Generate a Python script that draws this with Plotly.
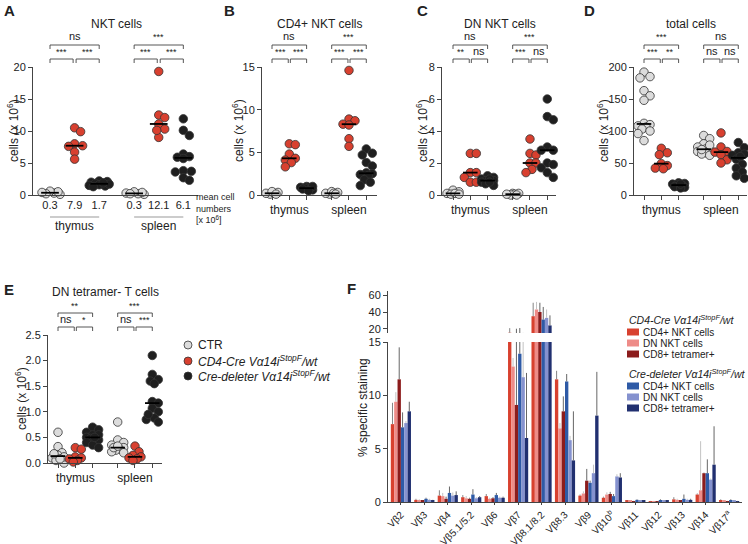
import numpy as np
import plotly.graph_objects as go

W, H = 748, 544
FONT = "Liberation Sans"

# ---------------- dot plot data, cells (x 10^6) ----------------
# A: NKT cells
a_thy_ctr = [0.1, 0.3, 0.5, 0.6, 0.2, 0.4]
a_thy_cd4 = [10.5, 9.9, 8.0, 7.6, 7.7, 6.7, 5.6]
a_thy_del = [2.1, 2.0, 2.2, 1.8, 1.6, 1.5, 1.4, 1.3, 1.7, 1.9]
a_spl_ctr = [0.1, 0.2, 0.4, 0.5, 0.3, 0.2]
a_spl_cd4 = [19.3, 12.5, 12.1, 11.1, 10.3, 9.0, 10.1]
a_spl_del = [11.9, 10.1, 9.3, 6.4, 6.0, 5.9, 5.7, 3.8, 3.6, 2.7, 2.3, 3.7]
a_means = ["0.3", "7.9", "1.7", "0.3", "12.1", "6.1"]

# B: CD4+ NKT cells
b_thy_ctr = [0.1, 0.2, 0.3, 0.2, 0.4, 0.1]
b_thy_cd4 = [6.0, 5.9, 4.8, 4.3, 4.1, 3.8, 3.3]
b_thy_del = [1.0, 0.9, 0.8, 0.7, 0.6, 0.9, 1.0, 0.8, 0.7, 0.5]
b_spl_ctr = [0.1, 0.2, 0.3, 0.4, 0.2, 0.1]
b_spl_cd4 = [14.6, 8.9, 8.7, 8.3, 8.2, 6.6, 5.7]
b_spl_del = [5.4, 4.9, 4.7, 3.8, 3.4, 2.6, 2.5, 2.4, 2.3, 1.8, 1.5, 1.1]

# C: DN NKT cells
c_thy_ctr = [0.3, 0.2, 0.1, 0.05, 0.1, 0.05]
c_thy_cd4 = [2.6, 2.6, 1.4, 1.4, 1.1, 0.8, 0.8]
c_thy_del = [1.2, 1.1, 1.0, 0.9, 0.9, 0.8, 0.7, 0.6, 1.0, 0.8]
c_spl_ctr = [0.1, 0.05, 0.0, 0.05, 0.1, 0.0]
c_spl_cd4 = [3.5, 2.6, 2.5, 2.0, 2.0, 1.6, 1.4]
c_spl_del = [6.0, 4.9, 4.7, 3.0, 2.8, 2.8, 2.0, 1.9, 1.7, 1.4, 1.1]

# D: total cells
d_thy_ctr = [192, 185, 183, 163, 155, 148, 112, 110, 108, 106, 103, 100, 96, 85]
d_thy_cd4 = [73, 66, 63, 49, 46, 42, 41]
d_thy_del = [19, 18, 17, 16, 15, 14, 13, 12, 11, 17]
d_spl_ctr = [93, 88, 80, 75, 72, 70, 68, 66, 64, 62, 78, 71]
d_spl_cd4 = [97, 75, 68, 67, 63, 55, 50]
d_spl_del = [82, 74, 66, 64, 62, 56, 48, 42, 36, 30, 26, 60]

# E: DN tetramer- T cells
e_thy_ctr = [0.6, 0.32, 0.2, 0.15, 0.1, 0.05, 0.0, 0.12, 0.08, 0.18]
e_thy_cd4 = [0.3, 0.27, 0.12, 0.1, 0.05, 0.08, 0.02]
e_thy_del = [0.7, 0.65, 0.6, 0.55, 0.5, 0.48, 0.45, 0.4, 0.35, 0.3, 0.55, 0.5]
e_spl_ctr = [0.8, 0.45, 0.4, 0.35, 0.3, 0.27, 0.25, 0.22, 0.2, 0.3, 0.33]
e_spl_cd4 = [0.33, 0.22, 0.15, 0.12, 0.1, 0.08, 0.05]
e_spl_del = [2.1, 1.73, 1.63, 1.6, 1.55, 1.2, 1.17, 1.07, 1.0, 0.88, 0.85, 0.8, 0.95]

# significance labels: [top, lower-left, lower-right] per organ
a_sig = [["ns", "***", "***"], ["***", "***", "***"]]
b_sig = [["ns", "***", "***"], ["***", "***", "***"]]
c_sig = [["ns", "**", "ns"], ["***", "***", "ns"]]
d_sig = [["***", "***", "**"], ["ns", "ns", "ns"]]
e_sig = [["**", "ns", "*"], ["***", "ns", "***"]]

organs = ["thymus", "spleen"]
genotypes = ["CTR", "<i>CD4-Cre Vα14i<sup>StopF</sup>/wt</i>",
             "<i>Cre-deleter Vα14i<sup>StopF</sup>/wt</i>"]

# ---------------- F: Vbeta usage, % specific staining ----------------
vb_labels = ["Vβ2", "Vβ3", "Vβ4", "Vβ5.1/5.2", "Vβ6", "Vβ7", "Vβ8.1/8.2", "Vβ8.3",
             "Vβ9", "Vβ10<sup>b</sup>", "Vβ11", "Vβ12", "Vβ13", "Vβ14", "Vβ17<sup>a</sup>"]
f_cd4cre_cd4 = [7.3, 0.2, 0.6, 0.45, 0.55, 15.3, 35, 11.5, 0.6, 0.4, 0.1, 0.05, 0.25, 0.7, 0.15]
f_cd4cre_dn = [9.4, 0.15, 0.55, 0.35, 0.3, 12.7, 43, 6.9, 0.8, 0.7, 0.1, 0.05, 0.2, 1.1, 0.1]
f_cd4cre_cd8 = [11.5, 0.1, 0.3, 0.3, 0.35, 9.1, 40, 8.5, 2.0, 0.75, 0.05, 0.02, 0.1, 2.7, 0.05]
f_del_cd4 = [7.0, 0.3, 0.85, 0.7, 0.65, 13.9, 31, 11.3, 1.8, 0.55, 0.2, 0.15, 0.3, 2.7, 0.15]
f_del_dn = [7.4, 0.2, 0.6, 0.35, 0.4, 11.7, 33, 5.8, 2.7, 2.4, 0.1, 0.1, 0.2, 2.1, 0.1]
f_del_cd8 = [8.5, 0.15, 0.65, 0.45, 0.4, 6.0, 24, 3.9, 8.1, 2.3, 0.1, 0.1, 0.2, 3.5, 0.05]
f_cd4cre_cd4_err = [2.0, 0.1, 0.5, 0.2, 0.2, 5.5, 16, 0.8, 0.1, 0.1, 0.05, 0.05, 0.2, 0.1, 0.1]
f_cd4cre_dn_err = [0.9, 0.1, 0.3, 0.2, 0.1, 0.8, 9, 0.5, 0.2, 0.2, 0.05, 0.05, 0.1, 4.6, 0.05]
f_cd4cre_cd8_err = [3.0, 0.05, 0.2, 0.1, 0.1, 11.0, 11, 1.4, 1.1, 0.2, 0.05, 0.05, 0.05, 0.05, 0.05]
f_del_cd4_err = [1.4, 0.1, 0.6, 0.5, 0.2, 7.0, 15, 0.7, 0.2, 0.2, 0.05, 0.1, 0.4, 1.3, 0.1]
f_del_dn_err = [0.2, 0.1, 0.3, 0.1, 0.1, 3.5, 10, 0.4, 0.8, 0.2, 0.05, 0.05, 0.1, 0.1, 0.05]
f_del_cd8_err = [0.9, 0.05, 0.35, 0.1, 0.1, 6.1, 12, 4.6, 4.1, 0.4, 0.05, 0.05, 0.1, 3.6, 0.05]
f_series = ["CD4+ NKT cells", "DN NKT cells", "CD8+ tetramer+"]
f_groups = ["<i>CD4-Cre Vα14i<sup>StopF</sup>/wt</i>", "<i>Cre-deleter Vα14i<sup>StopF</sup>/wt</i>"]

# ---------------- styling ----------------
dot_colors = ["#dcdcdc", "#d8402f", "#1f1f1f"]
bar_colors = ["#d8412f", "#ee8c88", "#8c1c1c", "#2e5aa6", "#8592cf", "#213070"]
err_colors = ["#777", "#bbb", "#555", "#555", "#bbb", "#555"]
AX = "#444"


def px(x):
    return x / W


def py(y):
    return 1 - y / H


def ann(text, x, y, size=12, xref="paper", xanchor="center", yanchor="middle", **kw):
    d = dict(text=text, x=x, y=y, xref=xref, yref="paper", xanchor=xanchor, yanchor=yanchor,
             showarrow=False, font=dict(size=size, color="#222", family=FONT))
    d.update(kw)
    return d


def swarm(vals, ypx, xpx, d=6.5, lim=0.45):
    vals = np.asarray(vals, float)
    cands = [0.0]
    for k in range(1, 10):
        cands += [k * 2.0, -k * 2.0]
    placed, offs = [], np.zeros(len(vals))
    for i in np.argsort(-vals):
        y = vals[i] * ypx
        best, bestd = 0.0, -1
        for c in cands:
            if abs(c) > lim * xpx:
                continue
            md = min([np.hypot(c - a, y - b) for a, b in placed], default=1e9)
            if md >= d:
                best = c
                break
            if md > bestd:
                bestd, best = md, c
        placed.append((best, y))
        offs[i] = best / xpx
    return offs


panels = [
    dict(letter="A", title="NKT cells", top=20, dtick=5, fmt="",
         data=[a_thy_ctr, a_thy_cd4, a_thy_del, a_spl_ctr, a_spl_cd4, a_spl_del], sig=a_sig,
         x0=33, x1=198, c0=50, s=24.6, gap=3.42, ytop=67, ybot=195, lx=2, ly=10, yt=13),
    dict(letter="B", title="CD4+ NKT cells", top=15, dtick=5, fmt="",
         data=[b_thy_ctr, b_thy_cd4, b_thy_del, b_spl_ctr, b_spl_cd4, b_spl_del], sig=b_sig,
         x0=262, x1=377, c0=272, s=17.3, gap=3.45, ytop=67, ybot=195, lx=222, ly=10, yt=238),
    dict(letter="C", title="DN NKT cells", top=8, dtick=2, fmt="",
         data=[c_thy_ctr, c_thy_cd4, c_thy_del, c_spl_ctr, c_spl_cd4, c_spl_del], sig=c_sig,
         x0=442, x1=556, c0=453, s=17.3, gap=3.45, ytop=67, ybot=195, lx=415, ly=10, yt=422),
    dict(letter="D", title="total cells", top=200, dtick=50, fmt="",
         data=[d_thy_ctr, d_thy_cd4, d_thy_del, d_spl_ctr, d_spl_cd4, d_spl_del], sig=d_sig,
         x0=634, x1=747, c0=644, s=17.3, gap=3.45, ytop=67, ybot=195, lx=582, ly=10, yt=603),
    dict(letter="E", title="DN tetramer- T cells", top=2.5, dtick=0.5, fmt=".1f",
         data=[e_thy_ctr, e_thy_cd4, e_thy_del, e_spl_ctr, e_spl_cd4, e_spl_del], sig=e_sig,
         x0=48, x1=162, c0=58, s=17.3, gap=3.45, ytop=335, ybot=463, lx=2, ly=289, yt=21),
]

fig = go.Figure()
shapes, annots = [], []
axis_common = dict(showline=True, linecolor=AX, linewidth=1, showgrid=False, zeroline=False,
                   automargin=False, ticks="outside", ticklen=4, tickcolor=AX, tickwidth=1,
                   tickfont=dict(size=11, color="#222", family=FONT))

for i, p in enumerate(panels, start=1):
    sfx = "" if i == 1 else str(i)
    xa, ya = "x" + sfx, "y" + sfx
    pos = [0, 1, 2, p["gap"], p["gap"] + 1, p["gap"] + 2]
    ypx = (p["ybot"] - p["ytop"]) / p["top"]
    hw = 0.36 if i == 1 else 0.42
    for j, vals in enumerate(p["data"]):
        offs = swarm(vals, ypx, p["s"])
        fig.add_trace(go.Scatter(
            x=pos[j] + offs, y=vals, mode="markers", xaxis=xa, yaxis=ya, cliponaxis=False,
            showlegend=False,
            marker=dict(size=8.5, color=dot_colors[j % 3], line=dict(width=0.8, color="#333"))))
    for j, vals in enumerate(p["data"]):
        m = float(np.median(vals))
        fig.add_trace(go.Scatter(x=[pos[j] - hw, pos[j] + hw], y=[m, m], mode="lines",
                                 xaxis=xa, yaxis=ya, cliponaxis=False, showlegend=False,
                                 line=dict(color="#000", width=1.8)))

    xaxis = dict(axis_common, domain=[px(p["x0"]), px(p["x1"])],
                 range=[(p["x0"] - p["c0"]) / p["s"], (p["x1"] - p["c0"]) / p["s"]],
                 anchor=ya, tickangle=0)
    if i == 1:
        xaxis.update(ticks="", tickvals=pos, ticktext=a_means)
    else:
        xaxis.update(tickvals=[pos[1], pos[4]], ticktext=organs,
                     tickfont=dict(size=12, color="#222", family=FONT),
                     minor=dict(tickvals=pos, ticks="outside", ticklen=4, tickcolor=AX, tickwidth=1))
    yaxis = dict(axis_common, domain=[py(p["ybot"]), py(p["ytop"])], range=[0, p["top"]],
                 anchor=xa, tickmode="linear", tick0=0, dtick=p["dtick"], tickformat=p["fmt"])
    fig.update_layout({"xaxis" + sfx: xaxis, "yaxis" + sfx: yaxis})

    # significance brackets
    for k in range(2):
        p0, p1, p2 = pos[3 * k], pos[3 * k + 1], pos[3 * k + 2]
        top_y, low_y = p["ytop"] - 22, p["ytop"] - 8
        segs = [(p0, p2, top_y, p["sig"][k][0]),
                (p0, p1 - 0.06, low_y, p["sig"][k][1]),
                (p1 + 0.06, p2, low_y, p["sig"][k][2])]
        for (u, v, yy, lab) in segs:
            shapes.append(dict(type="path", xref=xa, yref="paper",
                               path=f"M {u},{py(yy + 4)} L {u},{py(yy)} L {v},{py(yy)} L {v},{py(yy + 4)}",
                               line=dict(color=AX, width=0.9)))
            annots.append(ann(lab, (u + v) / 2, py(yy - 0.5), size=11 if lab == "ns" else 9,
                              xref=xa, yanchor="bottom"))

    cx = (p["c0"] + (pos[2] + pos[3]) / 2 * p["s"])
    annots.append(ann(p["title"], px(cx), py(p["ytop"] - 43)))
    annots.append(ann("<b>" + p["letter"] + "</b>", px(p["lx"]), py(p["ly"]), size=15, xanchor="left"))
    annots.append(ann("cells (x 10<sup>6</sup>)", px(p["yt"]), py((p["ytop"] + p["ybot"]) / 2),
                      textangle=-90))

# panel A organ labels under the mean numbers
for k in range(2):
    shapes.append(dict(type="line", xref="x", yref="paper", x0=[0, 3.42][k], x1=[2, 5.42][k],
                       y0=py(217), y1=py(217), line=dict(color="#999", width=1)))
    annots.append(ann(organs[k], [1, 4.42][k], py(226), xref="x"))
annots.append(ann("mean cell<br>numbers<br>[x 10<sup>6</sup>]", px(194), py(208), size=9,
                  xanchor="left", align="left"))

# legend for the dot plots
for j, lab in enumerate(genotypes):
    yc = [345, 361, 376][j]
    shapes.append(dict(type="circle", xref="paper", yref="paper", x0=px(184), x1=px(192),
                       y0=py(yc + 4), y1=py(yc - 4), fillcolor=dot_colors[j],
                       line=dict(color="#333", width=0.8)))
    annots.append(ann(lab, px(196), py(yc), xanchor="left"))

# ---------------- panel F ----------------
f_vals = [f_cd4cre_cd4, f_cd4cre_dn, f_cd4cre_cd8, f_del_cd4, f_del_dn, f_del_cd8]
f_errs = [f_cd4cre_cd4_err, f_cd4cre_dn_err, f_cd4cre_cd8_err, f_del_cd4_err, f_del_dn_err, f_del_cd8_err]
xcat = np.arange(len(vb_labels))
for yax in ["y6", "y7"]:
    for k in range(6):
        fig.add_trace(go.Bar(
            x=xcat, y=f_vals[k], xaxis="x6", yaxis=yax, showlegend=False,
            marker=dict(color=bar_colors[k], line=dict(width=0)),
            error_y=dict(type="data", symmetric=False, array=f_errs[k], arrayminus=[0] * len(xcat),
                         color=err_colors[k], thickness=0.9, width=0)))

fig.update_layout(
    xaxis6=dict(axis_common, domain=[px(388), px(742)], range=[-0.55, 14.55], anchor="y6",
                tickvals=xcat, ticktext=vb_labels, tickangle=-45, ticklen=2,
                tickfont=dict(size=10, color="#222", family=FONT)),
    yaxis6=dict(axis_common, domain=[py(502), py(342)], range=[0, 15], anchor="x6",
                tickvals=[0, 5, 10, 15]),
    yaxis7=dict(axis_common, domain=[py(333), py(291)], range=[15, 65], anchor="x6",
                tickvals=[20, 40, 60]),
    bargap=0.14, bargroupgap=0,
)
annots.append(ann("<b>F</b>", px(345), py(288), size=15, xanchor="left"))
annots.append(ann("% specific staining", px(363), py(408), textangle=-90))

for g in range(2):
    ty = [319, 373][g]
    annots.append(ann(f_groups[g], px(627), py(ty), size=10.5, xanchor="left"))
    for k in range(3):
        yc = ty + 13 + 11 * k
        shapes.append(dict(type="rect", xref="paper", yref="paper", x0=px(627), x1=px(639),
                           y0=py(yc + 3.5), y1=py(yc - 3.5), fillcolor=bar_colors[3 * g + k],
                           line=dict(width=0)))
        annots.append(ann(f_series[k], px(641), py(yc), size=10, xanchor="left"))

fig.update_layout(
    template="none",
    width=W, height=H, margin=dict(l=0, r=0, t=0, b=0, autoexpand=False),
    paper_bgcolor="white", plot_bgcolor="white",
    font=dict(family=FONT, color="#222"),
    shapes=shapes, annotations=annots, showlegend=False,
)

fig.write_html("out.html", config={"displayModeBar": False},
               post_script="document.body.style.margin='0';")
